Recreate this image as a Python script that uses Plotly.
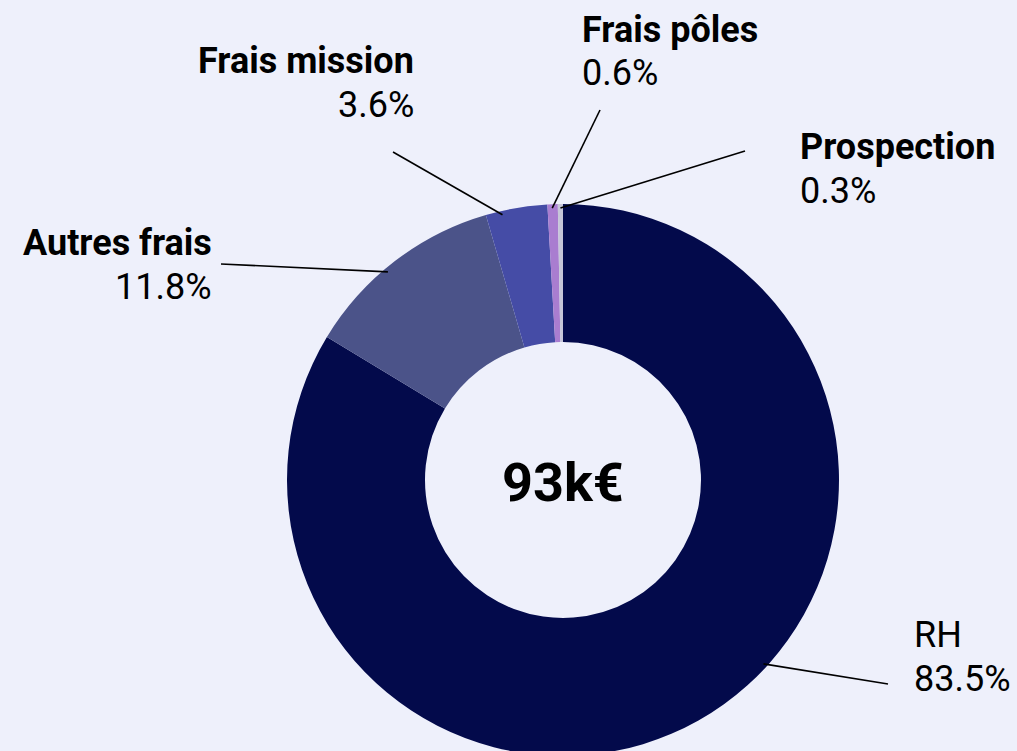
import math
import plotly.graph_objects as go

# ---- data ----
labels = ["RH", "Autres frais", "Frais mission", "Frais pôles", "Prospection"]
shares = [83.5, 11.8, 3.6, 0.6, 0.3]
center_text = "93k€"

# ---- style / layout ----
colors = ["#030A4B", "#4B5389", "#454CA6", "#A97DD0", "#C6C6D8"]
bold_name = [False, True, True, True, True]
W, H = 1017, 756          # figure slightly taller than the window; bottom is cropped
BG = "#EEF0FB"
FONT = "Roboto, Inter, 'DejaVu Sans', sans-serif"
cx, cy, R = 563, 480, 276
HOLE = 0.5
LINE_GAP = 44

# where each connector touches its slice (fraction along slice span)
conn_frac = [0.44, 0.44, 0.26, 0.45, 0.5]
# connector outer end (px) and label anchor (px), label alignment
conn_end = [(888, 684), (221, 264), (393, 152), (600, 110), (745, 151)]
label_anchor = [(913, 657), (213, 265), (415, 83), (581, 51.5), (799, 168.5)]
label_align = ["left", "right", "right", "left", "left"]

fig = go.Figure()
fig.add_trace(go.Pie(
    labels=labels, values=shares, sort=False, direction="clockwise", rotation=0,
    hole=HOLE, textinfo="none", showlegend=False, hoverinfo="label+percent",
    marker=dict(colors=colors, line=dict(width=0)),
    domain=dict(x=[(cx - 320) / W, (cx + 320) / W],
                y=[max(0, (H - cy - R) / H), (H - cy + R) / H]),
))

total = sum(shares)
start = 0.0
shapes = []
annotations = []
for i, (lab, v) in enumerate(zip(labels, shares)):
    a0 = start / total * 360
    a1 = (start + v) / total * 360
    start += v
    ang = math.radians(a0 + (a1 - a0) * conn_frac[i])
    r = R - 4
    sx = cx + r * math.sin(ang)
    sy = cy - r * math.cos(ang)
    ex, ey = conn_end[i]
    shapes.append(dict(type="line", xref="paper", yref="paper",
                       x0=sx / W, y0=1 - sy / H, x1=ex / W, y1=1 - ey / H,
                       line=dict(color="#000000", width=1.6)))
    name = f"<b>{lab}</b>" if bold_name[i] else lab
    lx, ly = label_anchor[i]
    for txt, yy in ((name, ly - LINE_GAP / 2), (f"{v:.1f}%", ly + LINE_GAP / 2)):
        annotations.append(dict(text=txt, xref="paper", yref="paper",
                                x=lx / W, y=1 - yy / H, xanchor=label_align[i],
                                yanchor="middle", align=label_align[i],
                                showarrow=False, borderpad=0,
                                font=dict(family=FONT, size=36, color="#000000")))

annotations.append(dict(text=f"<b>{center_text}</b>", xref="paper", yref="paper",
                        x=cx / W, y=1 - 482 / H, xanchor="center", yanchor="middle",
                        showarrow=False, font=dict(family=FONT, size=54, color="#000000")))

fig.update_layout(
    width=W, height=H, margin=dict(l=0, r=0, t=0, b=0),
    paper_bgcolor=BG, plot_bgcolor=BG,
    shapes=shapes, annotations=annotations,
    font=dict(family=FONT),
)

fig.write_html(
    "out.html",
    config={"displayModeBar": False},
    post_script="document.body.style.margin='0';document.body.style.overflow='hidden';"
                "document.documentElement.style.overflow='hidden';"
                f"document.body.style.background='{BG}';",
)
